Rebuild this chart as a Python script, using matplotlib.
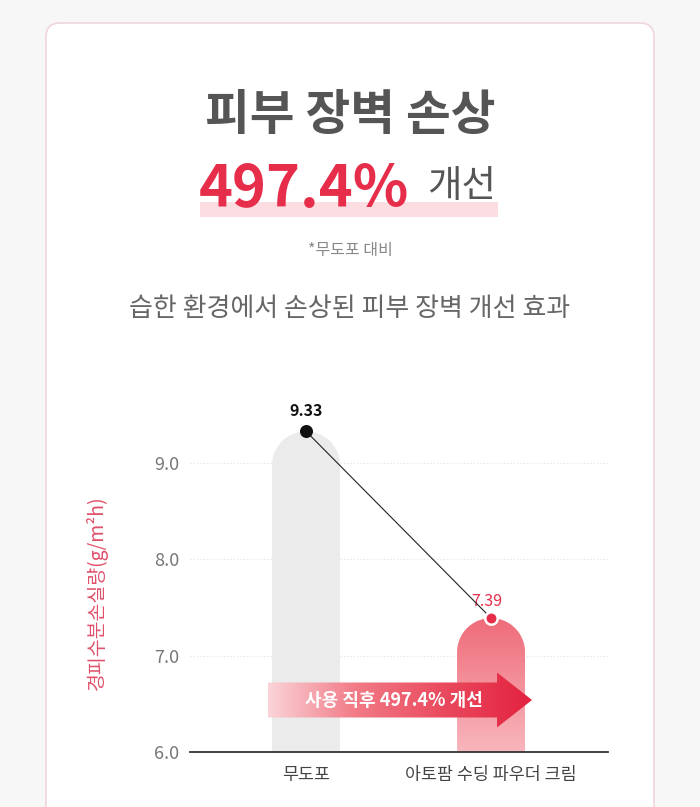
import numpy as np
import matplotlib
matplotlib.use("Agg")
import matplotlib.pyplot as plt
from matplotlib.patches import FancyBboxPatch, PathPatch, Polygon
from matplotlib.path import Path
from matplotlib.colors import LinearSegmentedColormap

plt.rcParams['font.family'] = ['Noto Sans CJK KR', 'DejaVu Sans']

# --- data ---
categories = ['무도포', '아토팜 수딩 파우더 크림']
values = [9.33, 7.39]
value_labels = ['9.33', '7.39']
yticks = [6.0, 7.0, 8.0, 9.0]
ylabel = '경피수분손실량(g/m²h)'
title = '피부 장벽 손상'
headline = '497.4%'
headline_suffix = '개선'
note = '*무도포 대비'
subtitle = '습한 환경에서 손상된 피부 장벽 개선 효과'
arrow_text = '사용 직후 497.4% 개선'

RED = '#e62e4a'
W, H = 700, 807

fig = plt.figure(figsize=(W / 100, H / 100), dpi=100)
fig.patch.set_facecolor('#f7f7f7')

# background axes in pixel coords for the card and header text
bg = fig.add_axes([0, 0, 1, 1])
bg.set_xlim(0, W)
bg.set_ylim(H, 0)
bg.axis('off')
bg.add_patch(FancyBboxPatch((46, 23), 608, 830, boxstyle='round,pad=0,rounding_size=14',
                            fc='white', ec='#efd6db', lw=1.2))

bg.text(350, 115, title, ha='center', va='center', fontsize=35, fontweight='bold', color='#555555')
bg.add_patch(plt.Rectangle((200, 202), 298, 15, fc='#fbdde2', ec='none'))
bg.text(199, 207, headline, ha='left', va='baseline', fontsize=41.5, fontweight='bold', color=RED)
bg.text(462, 187, headline_suffix, ha='center', va='center', fontsize=27, color='#555555')
bg.text(350, 251, note, ha='center', va='center', fontsize=11.5, color='#888888')
bg.text(350, 308, subtitle, ha='center', va='center', fontsize=18.7, color='#666666')

# chart axes
ax = fig.add_axes([190 / W, 1 - 752 / H, 418 / W, 346.7 / H])
ax.set_facecolor('none')
xlim = (-0.627, 1.632)
ylim = (6.0, 9.6)
ax.set_xlim(*xlim)
ax.set_ylim(*ylim)
px_x = 418 / (xlim[1] - xlim[0])
px_y = 346.7 / (ylim[1] - ylim[0])

for s in ['top', 'right', 'left']:
    ax.spines[s].set_visible(False)
ax.spines['bottom'].set_color('#333333')
ax.spines['bottom'].set_linewidth(1.3)
ax.set_yticks(yticks)
ax.set_yticklabels([f'{t:.1f}' for t in yticks], fontsize=13, color='#777777')
ax.tick_params(axis='y', length=0, pad=8)
ax.tick_params(axis='x', length=0, pad=10)
ax.set_xticks(range(len(categories)))
ax.set_xticklabels(categories, fontsize=12.5, color='#444444')
ax.grid(axis='y', linestyle=(0, (1, 2)), color='#e2e2e2', lw=0.8)
ax.set_axisbelow(True)
ax.set_ylabel(ylabel, fontsize=14, color='#e0506a', fontweight='medium', labelpad=33, y=0.46)


def rounded_bar(x, top, width, base):
    rx = width / 2
    ry = rx * px_x / px_y
    t = np.linspace(np.pi, 0, 40)
    arc = np.column_stack([x + rx * np.cos(t), top - ry + ry * np.sin(t)])
    verts = np.vstack([[x - rx, base], arc, [x + rx, base], [x - rx, base]])
    codes = [Path.MOVETO] + [Path.LINETO] * (len(verts) - 2) + [Path.CLOSEPOLY]
    return Path(verts, codes)


bar_w = 68 / px_x
# gray bar
ax.add_patch(PathPatch(rounded_bar(0, values[0], bar_w, ylim[0]), fc='#ebebeb', ec='none', zorder=1))
# red gradient bar
p = PathPatch(rounded_bar(1, values[1], bar_w, ylim[0]), fc='none', ec='none')
ax.add_patch(p)
bar_cmap = LinearSegmentedColormap.from_list('bar', ['#f8b6bd', '#ef6c7a'])
grad = np.linspace(0, 1, 200).reshape(-1, 1)
im = ax.imshow(grad, cmap=bar_cmap, origin='lower', aspect='auto', zorder=1,
               extent=[1 - bar_w / 2, 1 + bar_w / 2, ylim[0], values[1]])
im.set_clip_path(p)

# arrow
def dx(px):
    return px / px_x


def dy(px):
    return px / px_y


x0, xh, xt = -dx(306 - 268), dx(497 - 306), dx(532 - 306)
yc = ylim[0] + dy(752 - 700)
bh, hh = dy(17.5), dy(27.5)
arrow = Polygon([[x0, yc - bh], [xh, yc - bh], [xh, yc - hh], [xt, yc], [xh, yc + hh],
                 [xh, yc + bh], [x0, yc + bh]], closed=True, fc='none', ec='none')
ax.add_patch(arrow)
arrow_cmap = LinearSegmentedColormap.from_list('arr', ['#fad3d8', '#f27a86', '#ea4a5e', '#e3223f'])
agrad = np.linspace(0, 1, 300).reshape(1, -1)
aim = ax.imshow(agrad, cmap=arrow_cmap, aspect='auto', zorder=3,
                extent=[x0, xt, yc - hh, yc + hh])
aim.set_clip_path(arrow)
ax.text(dx(394 - 306), yc, arrow_text, ha='center', va='center', fontsize=13,
        fontweight='bold', color='white', zorder=4)

# line and points
xs = np.arange(len(values))
ax.plot(xs, values, color='#222222', lw=0.8, zorder=5)
ax.scatter([0], [values[0]], s=70, color='#111111', zorder=6)
ax.scatter([1], [values[1]], s=80, color=RED, edgecolor='white', linewidth=1.8, zorder=6)
ax.text(0, values[0] + dy(20), value_labels[0], ha='center', va='center', fontsize=11.5,
        fontweight='bold', color='#111111')
ax.text(1 - dx(4), values[1] + dy(17), value_labels[1], ha='center', va='center', fontsize=11.5,
        color=RED)

fig.savefig('out.png', dpi=100, facecolor=fig.get_facecolor())
